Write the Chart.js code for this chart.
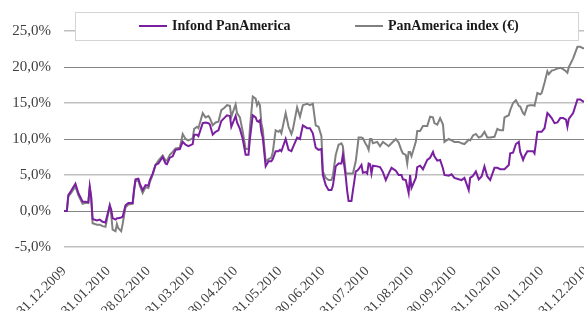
<!DOCTYPE html>
<html>
<head>
<meta charset="utf-8">
<script src="https://cdn.jsdelivr.net/npm/chart.js@4"></script>
<style>
  html, body { margin: 0; padding: 0; background: #fff; overflow: hidden; }
  #wrap { width: 584px; height: 311px; overflow: hidden; }
</style>
</head>
<body>
<div id="wrap"><canvas id="perf" width="586" height="311"></canvas></div>
<script>
// days since 31.12.2009
const days = [0,2,3,5,8,10,13,15,17,18,19,20,23,25,27,29,32,33,34,36,37,38,40,41,43,45,48,49,50,52,53,55,57,59,60,62,64,66,69,71,72,
  74,76,78,81,83,85,87,90,91,93,94,97,99,101,102,104,106,108,110,112,114,116,117,120,121,123,125,127,129,130,132,134,135,136,137,138,139,
  141,143,145,146,148,150,151,152,155,157,159,160,163,165,167,170,172,174,176,178,180,181,183,185,187,188,190,192,194,195,197,198,199,201,202,
  204,205,206,208,209,211,212,213,214,215,216,219,221,223,225,227,229,232,234,236,237,239,240,241,242,243,246,247,249,251,254,256,258,259,261,
  263,265,266,269,271,273,276,278,280,283,284,286,288,290,292,294,296,298,301,303,305,307,308,311,312,314,316,318,319,321,322,324,326,328,329,
  331,333,334,336,338,339,341,343,345,347,349,351,352,353,356,359,361,363,365];

// Infond PanAmerica, %
const fund = [0,0,2.2,2.8,3.8,2.5,1.3,1.3,1.2,3.4,2.0,-1.1,-1.3,-1.2,-1.5,-1.6,0.8,0.2,-1.0,-1.2,-1.0,-1.0,-0.9,-0.8,0.8,1.1,1.1,3.0,4.4,4.5,3.8,2.9,3.6,3.5,4.3,5.2,6.4,6.6,7.5,6.6,6.5,
  7.4,7.6,8.5,8.6,9.6,9.2,9.0,9.3,10.6,10.6,10.4,12.2,12.3,12.2,12.0,10.6,11.0,11.2,12.5,12.9,13.3,13.2,11.7,13.2,12.3,11.4,10.0,7.8,7.8,10.0,13.3,13.0,12.5,12.4,12.6,11.0,10.2,
  6.2,6.9,6.9,7.2,8.3,8.3,8.5,8.3,10.0,8.5,8.3,8.8,10.2,10.0,11.9,11.5,11.5,10.8,8.8,8.5,8.6,5.0,3.6,2.9,2.9,3.5,6.2,6.6,6.6,7.8,4.8,2.8,1.4,1.4,2.8,
  5.5,5.6,5.8,6.4,5.3,5.4,5.2,6.6,6.5,5.2,6.3,6.2,6.1,5.4,4.3,5.2,6.0,5.6,5.0,5.0,4.4,4.3,3.4,2.5,5.0,3.2,4.6,6.1,6.3,5.8,7.1,7.4,8.2,7.6,7.0,
  7.1,5.9,5.0,4.9,5.1,4.6,4.4,4.3,4.6,2.9,4.6,4.9,5.5,4.4,4.8,6.2,4.8,4.3,6.0,6.0,5.8,5.8,5.8,6.4,8.0,8.1,9.3,9.6,8.2,7.1,7.6,8.3,8.3,8.3,8.0,
  11.0,11.0,11.0,11.5,13.6,13.4,12.9,12.2,12.3,12.9,12.9,12.7,11.7,12.8,13.6,15.5,15.5,15.2,15.2];

// PanAmerica index (€), %
const bench = [0,0,2.0,2.5,3.4,2.2,1.0,1.1,1.1,3.2,1.8,-1.7,-1.9,-1.9,-2.1,-2.2,0.7,-0.5,-2.6,-2.8,-1.8,-2.4,-2.8,-1.8,0.5,0.9,1.0,2.8,4.2,4.3,3.5,2.5,3.3,3.2,4.0,5.0,6.4,7.0,7.7,7.0,7.0,
  7.8,8.2,8.7,8.8,10.7,10.0,9.8,10.1,11.4,11.7,11.5,13.6,13.0,13.2,12.9,11.9,12.3,12.4,14.0,14.3,14.7,14.6,13.1,14.8,13.6,13.0,11.0,8.6,8.6,11.5,15.9,15.6,14.7,15.1,14.7,12.2,11.3,
  6.9,7.2,7.4,8.2,11.2,11.0,11.2,10.8,13.6,11.7,10.7,11.3,14.4,13.1,14.7,14.9,14.7,14.9,11.9,11.7,10.4,5.5,4.6,4.3,4.3,4.9,7.8,9.2,9.4,9.0,5.3,5.2,5.2,5.2,5.2,
  6.9,8.5,10.2,10.2,10.1,9.3,9.0,8.5,10.0,10.0,9.4,9.6,9.0,9.6,9.3,9.0,9.4,10.0,9.5,8.4,8.0,7.8,6.6,8.2,8.2,7.6,9.6,11.1,11.1,11.8,11.8,13.1,13.0,12.2,12.0,
  12.9,12.0,9.6,10.0,9.8,9.6,9.6,9.4,9.3,9.9,9.8,10.5,10.7,10.2,10.4,11.0,10.2,10.2,10.3,11.4,11.2,11.2,13.0,13.3,14.0,15.0,15.4,14.6,14.5,13.6,13.4,14.6,14.7,14.7,14.6,
  16.4,16.2,16.4,17.8,19.4,19.0,19.5,19.6,19.8,19.9,19.7,19.4,19.2,20.0,21.2,22.8,22.8,22.6,22.6];

const tickDays = [0,31,59,90,120,151,181,212,243,273,304,334,365];
const tickLabels = ['31.12.2009','31.01.2010','28.02.2010','31.03.2010','30.04.2010','31.05.2010','30.06.2010',
  '31.07.2010','31.08.2010','30.09.2010','31.10.2010','30.11.2010','31.12.2010'];
const seriesNames = ['Infond PanAmerica', 'PanAmerica index (€)'];
const seriesColors = ['#7a1fa0', '#808080'];

const serif = "'Liberation Serif', 'DejaVu Serif', serif";

function toPoints(vals) {
  return days.map((d, i) => ({x: d, y: vals[i]}));
}

// legend drawn inside the plot, over the gridlines, like the original
const boxLegend = {
  id: 'boxLegend',
  afterDraw(chart) {
    const ctx = chart.ctx;
    ctx.save();
    ctx.fillStyle = '#fff';
    ctx.fillRect(75, 12, 503, 28);
    ctx.strokeStyle = '#d4d4d4';
    ctx.lineWidth = 1;
    ctx.strokeRect(75.5, 12.5, 503, 28);
    const starts = [139, 355];
    ctx.font = 'bold 14px ' + serif;
    ctx.textBaseline = 'middle';
    chart.data.datasets.forEach((ds, i) => {
      const x = starts[i];
      ctx.strokeStyle = ds.borderColor;
      ctx.lineWidth = 2;
      ctx.beginPath();
      ctx.moveTo(x, 26);
      ctx.lineTo(x + 28, 26);
      ctx.stroke();
      ctx.fillStyle = '#1a1a1a';
      ctx.fillText(ds.label, x + 33, 26);
    });
    ctx.restore();
  }
};

const ctx = document.getElementById('perf').getContext('2d');
const chart = new Chart(ctx, {
  type: 'line',
  data: {
    datasets: [{
      label: seriesNames[0],
      data: toPoints(fund),
      borderColor: seriesColors[0],
      borderWidth: 2,
      pointRadius: 0,
      tension: 0
    }, {
      label: seriesNames[1],
      data: toPoints(bench),
      borderColor: seriesColors[1],
      borderWidth: 2,
      pointRadius: 0,
      tension: 0
    }]
  },
  options: {
    responsive: false,
    animation: false,
    layout: { padding: { top: 31, left: 0, right: 0, bottom: 0 } },
    plugins: {
      legend: { display: false },
      tooltip: { enabled: false }
    },
    scales: {
      x: {
        type: 'linear',
        min: 0,
        max: 365,
        afterBuildTicks: (scale) => {
          scale.ticks = tickDays.map(v => ({value: v}));
        },
        afterFit: (scale) => {
          scale.height = 64;
          scale.paddingLeft = 0;
          scale.paddingRight = 0;
        },
        grid: { display: false },
        border: { display: false },
        ticks: {
          autoSkip: false,
          minRotation: 45,
          maxRotation: 45,
          padding: 8,
          color: '#404040',
          font: { family: serif, size: 14 },
          callback: (v, i) => tickLabels[i]
        }
      },
      y: {
        min: -5,
        max: 25,
        afterFit: (scale) => { scale.width = 64; },
        border: { display: false },
        grid: {
          drawTicks: false,
          color: (c) => (c.tick.value % 10 === 0 ? '#858585' : '#c0c0c0'),
          lineWidth: (c) => (c.tick.value % 10 === 0 ? 1 : 1.6)
        },
        ticks: {
          stepSize: 5,
          padding: 13,
          color: '#404040',
          font: { family: serif, size: 15 },
          callback: (v) => v.toFixed(1).replace('.', ',') + '%'
        }
      }
    }
  },
  plugins: [boxLegend]
});
</script>
</body>
</html>
